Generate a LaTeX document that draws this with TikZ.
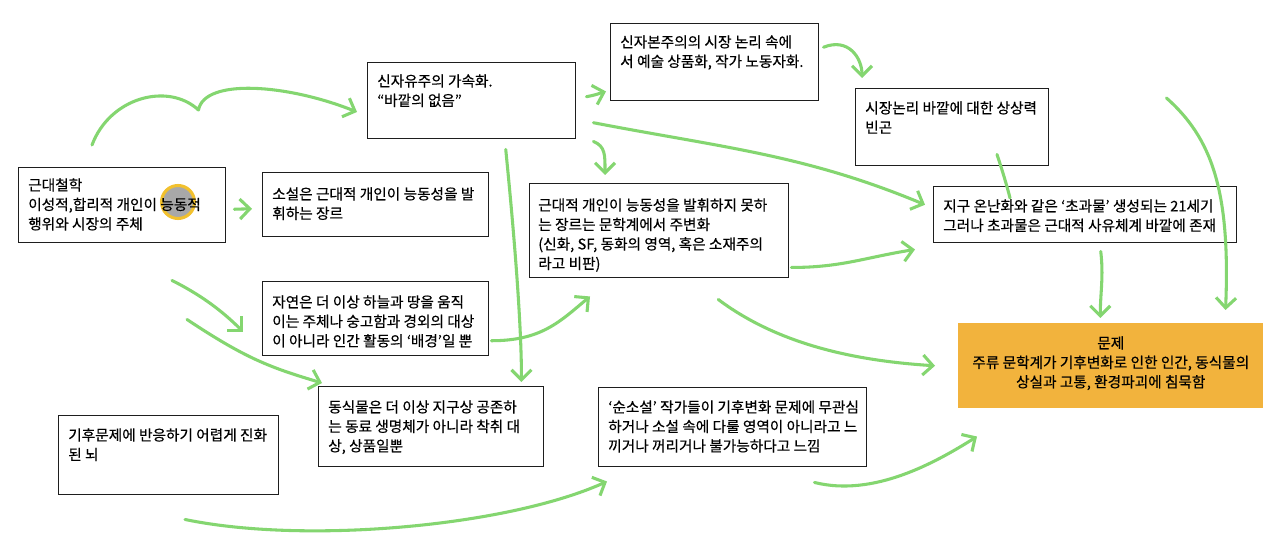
\documentclass[tikz,border=0pt]{standalone}
\usepackage{fontspec}
\setmainfont{Noto Sans CJK KR}[FakeBold=0.4]
\usetikzlibrary{calc,arrows.meta}
\definecolor{gline}{HTML}{84D670}
\definecolor{boxline}{HTML}{1E1E1E}
\definecolor{orangefill}{HTML}{F2B33D}
\definecolor{dotfill}{HTML}{A8A8A8}
\definecolor{dotring}{HTML}{F2C12E}
% box: name, x, y, w, h
\newcommand\bx[6][boxst]{\node[#1,minimum width={#5*0.75pt},minimum height={#6*0.75pt}] (#2) at (#3,#4) {};}
\tikzset{
  boxst/.style={draw=boxline,line width=1.1pt,anchor=north west,inner sep=0pt},
  probst/.style={draw=none,fill=orangefill,anchor=north west,inner sep=0pt},
  txt/.style={anchor=north west,align=left,inner sep=0pt,
    font=\fontsize{11pt}{14.6pt}\selectfont},
  ctxt/.style={anchor=north,align=center,inner sep=0pt,
    font=\fontsize{11pt}{14.6pt}\selectfont},
  garrow/.style={draw=gline,line width=2.3pt,line cap=round,line join=round,
    -{Straight Barb[length=7.5pt,width=15pt]}},
  gline/.style={draw=gline,line width=2.3pt,line cap=round}
}
\begin{document}
\begin{tikzpicture}[x=0.75pt,y=-0.75pt]
\useasboundingbox[fill=white] (0,0) rectangle (1280,559);
\fill[dotfill,draw=dotring,line width=2.3pt] (178,202) circle[radius=16.5];
\bx{b1}{18}{167}{207}{75}
\bx{b2}{262}{172}{226}{64}
\bx{b3}{367}{62}{208}{76}
\bx{b4}{610}{23}{208}{77}
\bx{b5}{855}{88}{193}{77}
\bx{b6}{933}{186}{303}{56}
\bx{b7}{529}{183}{259}{94}
\bx{b8}{262}{281}{226}{74}
\bx{b9}{318}{386}{225}{80}
\bx{b10}{598}{387}{268}{79}
\bx[probst]{b11}{958}{323}{305}{85}
\bx{b12}{58}{415}{220}{79}
\node[txt] (t1) at ($(b1.north west)+(10,11)$) {근대철학\\이성적,합리적 개인이 능동적\\행위와 시장의 주체};
\node[txt] (t2) at ($(b2.north west)+(10,15)$) {소설은 근대적 개인이 능동성을 발\\휘하는 장르};
\node[txt] (t3) at ($(b3.north west)+(10,12)$) {신자유주의 가속화.\\“바깥의 없음”};
\node[txt] (t4) at ($(b4.north west)+(10,12)$) {신자본주의의 시장 논리 속에\\서 예술 상품화, 작가 노동자화.};
\node[txt] (t5) at ($(b5.north west)+(10,13)$) {시장논리 바깥에 대한 상상력\\빈곤};
\node[txt] (t6) at ($(b6.north west)+(10,13)$) {지구 온난화와 같은 ‘초과물’ 생성되는 21세기\\그러나 초과물은 근대적 사유체계 바깥에 존재};
\node[txt] (t7) at ($(b7.north west)+(9,15)$) {근대적 개인이 능동성을 발휘하지 못하\\는 장르는 문학계에서 주변화\\(신화, SF, 동화의 영역, 혹은 소재주의\\라고 비판)};
\node[txt] (t8) at ($(b8.north west)+(10,14)$) {자연은 더 이상 하늘과 땅을 움직\\이는 주체나 숭고함과 경외의 대상\\이 아니라 인간 활동의 ‘배경’일 뿐};
\node[txt] (t9) at ($(b9.north west)+(10,14)$) {동식물은 더 이상 지구상 공존하\\는 동료 생명체가 아니라 착취 대\\상, 상품일뿐};
\node[txt] (t10) at ($(b10.north west)+(10,13)$) {‘순소설’ 작가들이 기후변화 문제에 무관심\\하거나 소설 속에 다룰 영역이 아니라고 느\\끼거나 꺼리거나 불가능하다고 느낌};
\node[ctxt] (t11) at ($(b11.north)+(0,13)$) {문제\\주류 문학계가 기후변화로 인한 인간, 동식물의\\상실과 고통, 환경파괴에 침묵함};
\node[txt] (t12) at ($(b12.north west)+(10,13)$) {기후문제에 반응하기 어렵게 진화\\된 뇌};
% connectors
\draw[garrow] ($(b1.north west)+(74,-22)$) .. controls +(18,-48) and +(-30,-28) .. ($(b1.north east)+(-28,-57)$) .. controls +(6,-32) and +(-70,-28) .. ($(b3.north west)+(-10,50)$);
\draw[garrow] ($(b1.east)+(8,4)$) -- ($(b2.west)+(-10,4)$);
\draw[garrow] ($(b1.south west)+(154,37)$) .. controls +(30,15) and +(-20,-20) .. ($(b8.west)+(-19,13)$);
\draw[garrow] ($(b1.south west)+(169,76)$) .. controls +(60,40) and +(-50,-15) .. ($(b9.north west)+(4,-3)$);
\draw[garrow] ($(b3.south)+(34,10)$) .. controls +(8,80) and +(0,-60) .. ($(b9.north east)+(-23,-4)$);
\draw[garrow] ($(b3.east)+(10,-4)$) .. controls +(10,-2) and +(-10,3) .. ($(b4.south west)+(-4,-10)$);
\draw[garrow] ($(b3.south east)+(17,2)$) .. controls +(12,5) and +(0,-20) .. ($(b7.north west)+(76,-8)$);
\draw[garrow] ($(b3.east)+(17,22)$) .. controls +(130,25) and +(-120,-50) .. ($(b6.west)+(-8,-10)$);
\draw[garrow] ($(b4.east)+(4,-15)$) .. controls +(25,-10) and +(0,-20) .. ($(b5.north west)+(7,-10)$);
\draw[gline] ($(b5.south west)+(142,-12)$) .. controls +(5,15) and +(-3,-12) .. ($(b6.north west)+(77,12)$);
\draw[garrow] ($(b7.south east)+(2,-11)$) .. controls +(50,0) and +(-50,8) .. ($(b6.south west)+(-18,6)$);
\draw[garrow] ($(b7.south)+(59,21)$) .. controls +(60,45) and +(-80,-5) .. ($(b11.west)+(-23,0)$);
\draw[garrow] ($(b8.east)+(2,22)$) .. controls +(50,0) and +(-30,25) .. ($(b7.south west)+(61,18)$);
\draw[garrow] ($(b6.south)+(15.5,8)$) .. controls +(3,25) and +(0,-25) .. ($(b11.north)+(-10.5,-5)$);
\draw[garrow] ($(b5.north east)+(117,10)$) .. controls +(45,40) and +(5,-120) .. ($(b11.north east)+(-38,-13)$);
\draw[garrow] ($(b12.south west)+(127,24)$) .. controls +(120,25) and +(-100,45) .. ($(b10.south west)+(9,14)$);
\draw[garrow] ($(b10.south east)+(-53,15)$) .. controls +(60,15) and +(-40,25) .. ($(b11.south west)+(19,28)$);
\end{tikzpicture}
\end{document}
